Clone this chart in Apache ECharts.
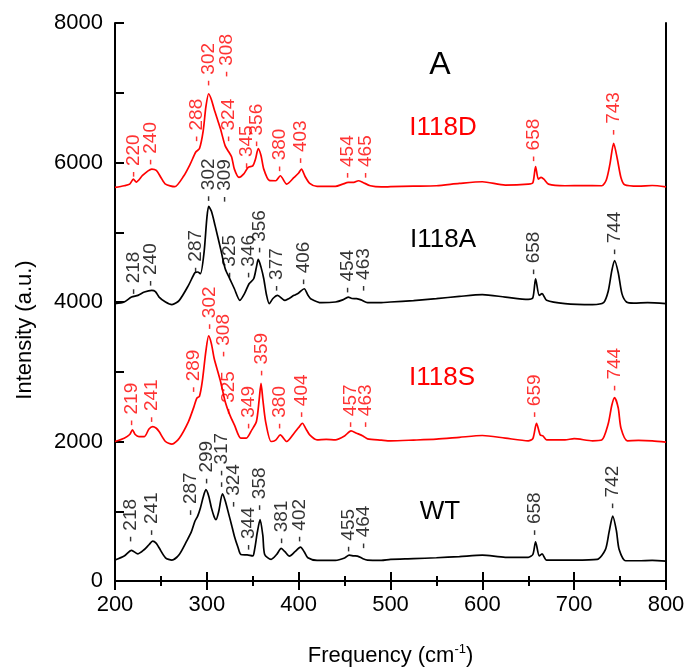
<!DOCTYPE html>
<html>
<head>
<meta charset="utf-8">
<script src="https://cdn.jsdelivr.net/npm/echarts@6/dist/echarts.min.js"></script>
<style>html,body{margin:0;padding:0;background:#fff}#c{width:690px;height:672px}</style>
</head>
<body>
<div id="c"></div>
<script>
// ---- data (frequency cm-1, intensity a.u.) ----
var i118d = [[200,5643],[210,5667],[216,5690],[220,5761],[223,5720],[230,5814],[236,5880],[240,5905],[245,5886],[250,5786],[255,5690],[265,5653],[275,5810],[282,5980],[288,6150],[292,6200],[296,6450],[299,6800],[302,6986],[305,6900],[308,6762],[312,6600],[315,6476],[320,6238],[324,6150],[327,6080],[330,5905],[335,5786],[340,5833],[345,5929],[350,5952],[353,6050],[356,6200],[359,6100],[362,5905],[368,5743],[375,5738],[380,5810],[387,5690],[395,5786],[400,5850],[403,5905],[407,5800],[412,5700],[420,5657],[440,5657],[448,5690],[454,5714],[460,5714],[465,5738],[470,5714],[478,5667],[490,5650],[500,5653],[525,5660],[550,5667],[575,5700],[600,5724],[625,5676],[650,5690],[655,5710],[658,5943],[661,5762],[664,5786],[667,5760],[672,5690],[690,5667],[710,5670],[730,5667],[735,5750],[739,5980],[743,6276],[747,6050],[751,5780],[755,5680],[770,5660],[785,5670],[800,5650]];
var i118a = [[200,3976],[210,4000],[218,4071],[225,4095],[232,4143],[240,4167],[244,4150],[248,4071],[255,4000],[262,3962],[270,4024],[280,4238],[287,4419],[290,4430],[293,4405],[297,4714],[300,5200],[302,5371],[305,5300],[309,5095],[315,4762],[320,4476],[325,4333],[330,4190],[336,4024],[341,4119],[346,4262],[351,4333],[354,4500],[356,4610],[359,4500],[362,4333],[365,4100],[368,3976],[372,4050],[377,4095],[385,4024],[395,4095],[400,4130],[406,4190],[410,4100],[413,4048],[425,3990],[440,4000],[448,4030],[454,4071],[458,4050],[463,4048],[468,4030],[475,3990],[490,3990],[500,4000],[525,4020],[550,4048],[575,4080],[600,4105],[625,4071],[650,4038],[655,4060],[658,4333],[662,4095],[665,4119],[670,4024],[690,3976],[720,3962],[732,3990],[737,4150],[741,4450],[744,4595],[748,4420],[752,4120],[757,4000],[765,3985],[780,3990],[800,3976]];
var i118s = [[200,2000],[210,2048],[216,2100],[219,2167],[222,2100],[226,2071],[232,2071],[237,2180],[241,2214],[245,2190],[248,2143],[255,2000],[262,1962],[270,2048],[280,2286],[286,2500],[289,2619],[292,2650],[295,2857],[299,3300],[302,3514],[305,3400],[308,3190],[312,3000],[315,2857],[320,2571],[325,2381],[330,2238],[337,2048],[343,2048],[349,2167],[354,2286],[357,2600],[359,2833],[361,2600],[364,2286],[370,2000],[375,2020],[380,2095],[387,2000],[395,2119],[400,2200],[404,2262],[408,2180],[412,2095],[420,2024],[430,2030],[440,2024],[450,2080],[457,2152],[463,2119],[470,2080],[475,2038],[490,2020],[500,2010],[525,2020],[550,2033],[575,2060],[600,2086],[625,2048],[650,2010],[655,2040],[659,2262],[663,2095],[666,2080],[670,2024],[690,2024],[700,2040],[720,2010],[730,2020],[737,2250],[741,2520],[744,2629],[748,2480],[751,2190],[758,2010],[770,2015],[785,2010],[800,1990]];
var wt = [[200,300],[210,357],[218,438],[225,390],[232,452],[237,520],[241,571],[245,540],[248,476],[255,333],[262,300],[270,381],[278,571],[283,700],[287,857],[290,930],[293,1048],[296,1200],[299,1310],[302,1220],[305,1048],[308,920],[310,881],[313,1000],[317,1248],[320,1150],[324,952],[327,800],[330,643],[334,480],[337,381],[344,374],[350,360],[352,450],[355,700],[358,881],[361,650],[363,381],[370,310],[376,380],[381,467],[385,420],[390,357],[396,420],[402,486],[406,420],[410,333],[420,296],[440,296],[450,330],[455,371],[460,360],[464,357],[470,320],[475,300],[490,297],[500,310],[525,320],[550,333],[575,350],[600,371],[625,340],[650,340],[655,380],[658,562],[662,360],[665,390],[670,300],[700,300],[725,310],[734,450],[738,700],[742,929],[746,720],[749,450],[756,290],[770,290],[785,295],[800,286]];

// peak labels: [x, label start intensity, text]
var i118dPeaks = [[221,5776,'220'],[240,5952,'240'],[290,6286,'288'],[302.5,7086,'302'],[322.5,7214,'308'],[324,6286,'324'],[344,5905,'345'],[355,6214,'356'],[380,5857,'380'],[403,5976,'403'],[453.6,5762,'454'],[474,5762,'465'],[656.5,6000,'658'],[743.8,6381,'743']];
var i118aPeaks = [[221,4095,'218'],[240,4214,'240'],[288,4405,'287'],[303,5430,'302'],[320,5420,'309'],[326,4333,'325'],[346,4333,'346'],[358,4690,'356'],[377,4143,'377'],[406,4238,'406'],[453.6,4119,'454'],[471,4143,'463'],[656.5,4381,'658'],[744.6,4667,'744']];
var i118sPeaks = [[219,2214,'219'],[241,2262,'241'],[286,2690,'289'],[304,3595,'302'],[319,3200,'308'],[324,2381,'325'],[346,2167,'349'],[360.5,2929,'359'],[380,2167,'380'],[404,2333,'404'],[457,2190,'457'],[474,2190,'463'],[657.6,2333,'659'],[744.6,2714,'744']];
var wtPeaks = [[218,548,'218'],[241,643,'241'],[282.6,929,'287'],[300.7,1381,'299'],[317,1330,'- 317'],[329.7,1048,'324'],[346,429,'344'],[358.7,1000,'358'],[382,524,'381'],[402,548,'402'],[454.6,405,'455'],[471,452,'464'],[657.6,643,'658'],[742.7,1024,'742']];

var xTicks = [200,300,400,500,600,700,800];
var yTicks = [0,2000,4000,6000,8000];

var FONT = '"Liberation Sans", Arial, sans-serif';
var RED = '#ff0000', BLACK = '#000000';

function trace(name, data, color) {
  return {name:name, type:'line', data:data, showSymbol:false, symbol:'none', smooth:0.25,
    lineStyle:{color:color, width:1.7}, z:3, animation:false};
}
function peaks(data, color) {
  return {type:'scatter', data:data, symbolSize:1, itemStyle:{color:'rgba(0,0,0,0)'}, z:4, animation:false, silent:true,
    label:{show:true, position:[0,0], rotate:90, align:'left', verticalAlign:'middle',
      color:color, fontSize:19, fontFamily:FONT,
      formatter:function(p){return '- ' + p.value[2];}}};
}
function txt(t, x, y, color, size, rot) {
  return {type:'text', x:x, y:y, rotation:rot || 0, z:10,
    style:{text:t, fill:color, font:size + 'px ' + FONT, align:'center', verticalAlign:'middle', textAlign:'center', textVerticalAlign:'middle'}};
}

var chart = echarts.init(document.getElementById('c'), null, {renderer:'canvas'});
var axisLineStyle = {color:'#000', width:2};
chart.setOption({
  backgroundColor:'#fff',
  animation:false,
  grid:{left:115, right:24, top:23, bottom:91, containLabel:false},
  xAxis:[{
    type:'value', min:xTicks[0], max:xTicks[xTicks.length-1], interval:100, position:'bottom',
    axisLine:{show:true, lineStyle:axisLineStyle},
    axisTick:{show:true, inside:true, length:9, lineStyle:{color:'#000', width:2}},
    minorTick:{show:true, splitNumber:2, length:5, lineStyle:{color:'#000', width:2}},
    splitLine:{show:false},
    axisLabel:{color:'#000', fontSize:22, fontFamily:FONT, margin:13},
    name:'Frequency (cm{sup|-1})', nameLocation:'middle', nameGap:62,
    nameTextStyle:{color:'#000', fontSize:22, fontFamily:FONT,
      rich:{sup:{fontSize:13, fontFamily:FONT, color:'#000', padding:[0,0,13,0]}}}
  },{
    type:'value', min:xTicks[0], max:xTicks[xTicks.length-1], interval:100, position:'top',
    axisLine:{show:true, lineStyle:axisLineStyle},
    axisTick:{show:true, inside:true, length:9, lineStyle:{color:'#000', width:2}},
    minorTick:{show:true, splitNumber:2, length:5, lineStyle:{color:'#000', width:2}},
    splitLine:{show:false}, axisLabel:{show:false}
  }],
  yAxis:[{
    type:'value', min:yTicks[0], max:yTicks[yTicks.length-1], interval:2000, position:'left',
    axisLine:{show:true, lineStyle:axisLineStyle},
    axisTick:{show:true, inside:true, length:9, lineStyle:{color:'#000', width:2}},
    minorTick:{show:true, splitNumber:2, length:9, lineStyle:{color:'#000', width:2}},
    splitLine:{show:false},
    axisLabel:{color:'#000', fontSize:22, fontFamily:FONT, margin:12, formatter:function(v){return String(v);}}
  },{
    type:'value', min:yTicks[0], max:yTicks[yTicks.length-1], interval:2000, position:'right',
    axisLine:{show:true, lineStyle:axisLineStyle},
    axisTick:{show:false}, splitLine:{show:false}, axisLabel:{show:false}
  }],
  graphic:[
    txt('Intensity (a.u.)', 25, 330, BLACK, 22, Math.PI / 2),
    txt('A', 440, 65, BLACK, 32),
    txt('I118D', 443, 128, RED, 26),
    txt('I118A', 443, 240, BLACK, 26),
    txt('I118S', 442, 378, RED, 26),
    txt('WT', 440, 512, BLACK, 26)
  ],
  series:[
    trace('WT', wt, BLACK),
    trace('I118S', i118s, RED),
    trace('I118A', i118a, BLACK),
    trace('I118D', i118d, RED),
    peaks(wtPeaks, BLACK),
    peaks(i118sPeaks, RED),
    peaks(i118aPeaks, BLACK),
    peaks(i118dPeaks, RED)
  ]
});
</script>
</body>
</html>
